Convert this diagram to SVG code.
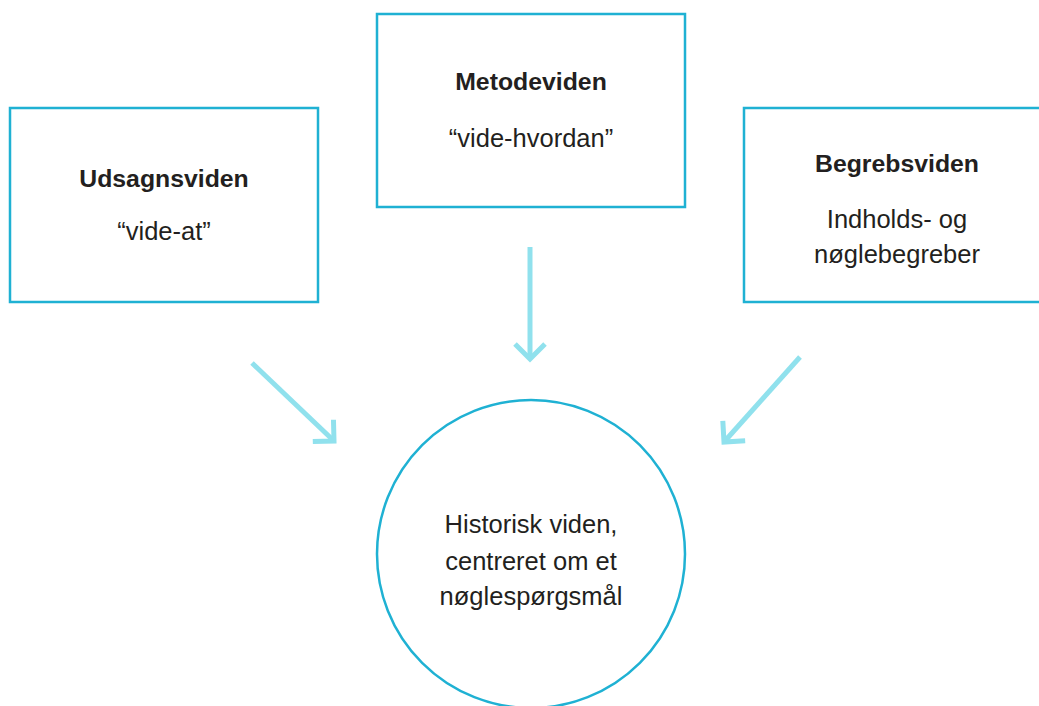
<svg xmlns="http://www.w3.org/2000/svg" width="1039" height="706" viewBox="0 0 1039 706">
<style>
.box{fill:#fff;stroke:#1fb1d3;stroke-width:2.5}
.t{font-family:"Liberation Sans",Arial,sans-serif;fill:#231f20;text-anchor:middle}
.b{font-weight:bold;font-size:24.8px}
.r{font-size:25.5px}
.arr{stroke:#90e1ed;stroke-width:5;fill:none}
</style>
<defs>
<marker id="head" markerUnits="userSpaceOnUse" markerWidth="40" markerHeight="40" refX="0" refY="0" viewBox="-20 -20 40 40" orient="auto" overflow="visible">
<path d="M-15,-15 L0,0 L-15,15" fill="none" stroke="#90e1ed" stroke-width="5"/>
</marker>
</defs>
<rect width="1039" height="706" fill="#fff"/>
<g id="connectors">
<line class="arr" x1="252" y1="363" x2="334" y2="441" marker-end="url(#head)"/>
<line class="arr" x1="530" y1="247" x2="530" y2="359" marker-end="url(#head)"/>
<line class="arr" x1="800" y1="357" x2="724" y2="442" marker-end="url(#head)"/>
</g>
<g id="udsagnsviden">
<rect class="box" x="10" y="108" width="308" height="194"/>
<text class="t b" x="164" y="187">Udsagnsviden</text>
<text class="t r" x="164" y="240">“vide-at”</text>
</g>
<g id="metodeviden">
<rect class="box" x="377" y="14" width="308" height="193"/>
<text class="t b" x="531" y="90">Metodeviden</text>
<text class="t r" x="531" y="147">“vide-hvordan”</text>
</g>
<g id="begrebsviden">
<rect class="box" x="744" y="108" width="310" height="194"/>
<text class="t b" x="897" y="172">Begrebsviden</text>
<text class="t r" x="897" y="228">Indholds- og</text>
<text class="t r" x="897" y="263">nøglebegreber</text>
</g>
<g id="historisk">
<circle cx="531" cy="554" r="154" fill="#fff" stroke="#1fb1d3" stroke-width="2.5"/>
<text class="t r" x="531" y="533">Historisk viden,</text>
<text class="t r" x="531" y="570">centreret om et</text>
<text class="t r" x="531" y="605">nøglespørgsmål</text>
</g>
</svg>
